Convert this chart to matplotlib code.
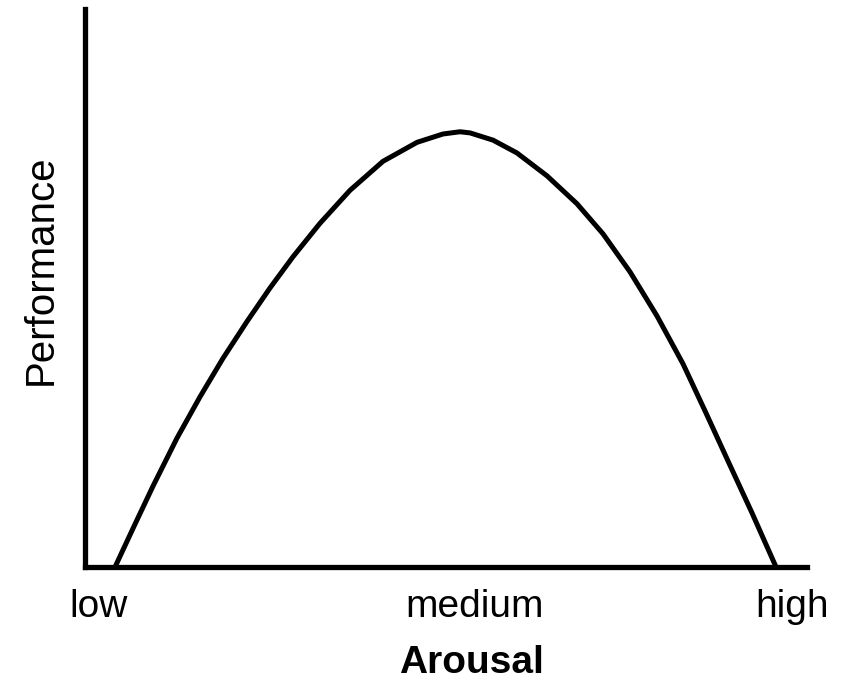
import matplotlib.pyplot as plt

# inverted-U: arousal vs performance (0-100 scale on both axes)
arousal = [4.16, 6.79, 9.42, 12.74, 15.93, 19.11, 22.44, 25.62, 28.81, 32.55,
           36.70, 41.27, 45.98, 49.58, 51.94, 53.32, 56.51, 59.83, 63.99, 68.14,
           71.75, 75.48, 79.22, 82.83, 86.01, 89.20, 92.38, 95.71]
performance = [0, 7.3, 14.5, 23.1, 30.5, 37.4, 44.0, 50.0, 55.6, 61.6,
               67.5, 72.7, 76.1, 77.6, 78.0, 77.8, 76.5, 74.2, 70.1, 65.1,
               59.7, 52.9, 45.0, 36.4, 27.6, 18.6, 9.7, 0]

tick_pos = [1.9, 53.9, 97.9]
tick_labels = ['low', 'medium', 'high']

plt.rcParams['font.family'] = ['Liberation Sans', 'DejaVu Sans']

fig = plt.figure(figsize=(8.49, 6.82), dpi=100)
ax = fig.add_axes([85 / 849, 1 - 567 / 682, 722 / 849, 558 / 682])

ax.plot(arousal, performance, color='black', lw=3.6, solid_joinstyle='round',
        solid_capstyle='butt', clip_on=False)

ax.set_xlim(0, 100)
ax.set_ylim(0, 100)

for side in ['top', 'right']:
    ax.spines[side].set_visible(False)
for side in ['left', 'bottom']:
    ax.spines[side].set_linewidth(3.8)
    ax.spines[side].set_capstyle('projecting')

ax.set_yticks([])
ax.set_xticks(tick_pos)
ax.set_xticklabels(tick_labels, fontsize=28)
ax.tick_params(axis='x', length=0, pad=16)

ax.set_xlabel('Arousal', fontsize=28, fontweight='bold')
ax.xaxis.set_label_coords(0.535, -0.14)
ax.set_ylabel('Performance', fontsize=29)
ax.yaxis.set_label_coords(-0.035, 0.532)

fig.savefig('out.png', dpi=100)
